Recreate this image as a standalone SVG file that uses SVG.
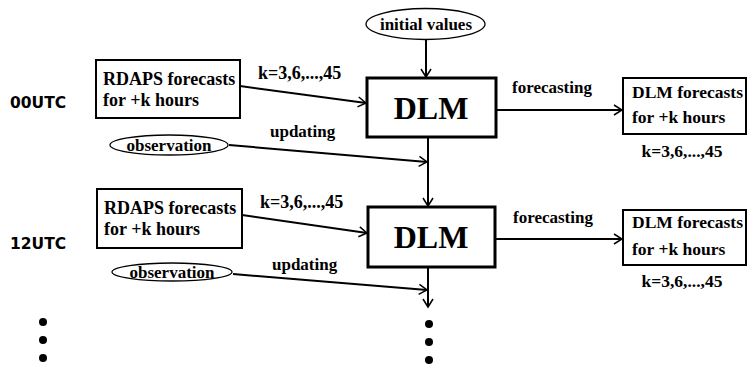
<svg xmlns="http://www.w3.org/2000/svg" width="748" height="367" viewBox="0 0 748 367">
<defs>
<marker id="arr" markerUnits="userSpaceOnUse" markerWidth="14" markerHeight="14" refX="10" refY="6" orient="auto">
<path d="M2,1 L10,6 L2,11" fill="none" stroke="#000" stroke-width="1.5"/>
</marker>
</defs>
<style>
.t{font-family:"Liberation Serif","Times New Roman",serif;font-weight:bold;fill:#000}
.utc{font-family:"DejaVu Sans",Verdana,sans-serif;font-weight:bold;font-size:15.5px;fill:#000}
.box{fill:#fff;stroke:#000;stroke-width:2}
.dlm{fill:#fff;stroke:#000;stroke-width:3}
.ell{fill:#fff;stroke:#000;stroke-width:1.3}
.c{fill:none;stroke:#000;stroke-width:2}
</style>
<rect width="748" height="367" fill="#fff"/>
<g id="connectors">
<line class="c" x1="426" y1="40" x2="426" y2="77" marker-end="url(#arr)"/>
<line class="c" x1="240" y1="86" x2="366" y2="103" marker-end="url(#arr)"/>
<line class="c" x1="229" y1="145" x2="427" y2="162" marker-end="url(#arr)"/>
<line class="c" x1="428" y1="138" x2="428" y2="206" marker-end="url(#arr)"/>
<line class="c" x1="496" y1="110" x2="622" y2="110" marker-end="url(#arr)"/>
<line class="c" x1="242" y1="215" x2="367" y2="233" marker-end="url(#arr)"/>
<line class="c" x1="233" y1="274" x2="427" y2="290" marker-end="url(#arr)"/>
<line class="c" x1="428" y1="268" x2="428" y2="307" marker-end="url(#arr)"/>
<line class="c" x1="495" y1="239" x2="622" y2="239" marker-end="url(#arr)"/>
<text class="t" x="258" y="79" font-size="18">k=3,6,...,45</text>
<text class="t" x="270" y="137" font-size="17">updating</text>
<text class="t" x="512" y="93" font-size="17">forecasting</text>
<text class="t" x="260" y="208" font-size="18">k=3,6,...,45</text>
<text class="t" x="272" y="270" font-size="17">updating</text>
<text class="t" x="513" y="223" font-size="17">forecasting</text>
</g>
<g id="utc00"><text class="utc" x="10" y="108">00UTC</text></g>
<g id="utc12"><text class="utc" x="10" y="249">12UTC</text></g>
<g id="initial">
<ellipse class="ell" cx="425.5" cy="24" rx="59.5" ry="15.5"/>
<text class="t" x="426" y="30" font-size="17" text-anchor="middle">initial values</text>
</g>
<g id="rdaps1">
<rect class="box" x="96" y="60" width="144" height="58"/>
<text class="t" x="103" y="85" font-size="18">RDAPS forecasts</text>
<text class="t" x="103" y="106" font-size="18">for +k hours</text>
</g>
<g id="obs1">
<ellipse class="ell" cx="169" cy="145" rx="59" ry="10"/>
<text class="t" x="169" y="151" font-size="17" text-anchor="middle">observation</text>
</g>
<g id="dlm1">
<rect class="dlm" x="367" y="78" width="129" height="59"/>
<text class="t" x="431" y="119" font-size="32" text-anchor="middle">DLM</text>
</g>
<g id="out1">
<rect class="box" x="623" y="78" width="123" height="56"/>
<text class="t" x="632" y="98" font-size="17.5">DLM forecasts</text>
<text class="t" x="632" y="123" font-size="17.5">for +k hours</text>
<text class="t" x="682" y="157" font-size="17.5" text-anchor="middle">k=3,6,...,45</text>
</g>
<g id="rdaps2">
<rect class="box" x="97" y="189" width="145" height="59"/>
<text class="t" x="104" y="214" font-size="18">RDAPS forecasts</text>
<text class="t" x="104" y="235" font-size="18">for +k hours</text>
</g>
<g id="obs2">
<ellipse class="ell" cx="172" cy="272" rx="60" ry="9"/>
<text class="t" x="172" y="278" font-size="17" text-anchor="middle">observation</text>
</g>
<g id="dlm2">
<rect class="dlm" x="368" y="207" width="127" height="60"/>
<text class="t" x="431" y="248" font-size="32" text-anchor="middle">DLM</text>
</g>
<g id="out2">
<rect class="box" x="623" y="210" width="123" height="55"/>
<text class="t" x="632" y="228" font-size="17.5">DLM forecasts</text>
<text class="t" x="632" y="255" font-size="17.5">for +k hours</text>
<text class="t" x="682" y="287" font-size="17.5" text-anchor="middle">k=3,6,...,45</text>
</g>
<g id="dots">
<circle cx="43" cy="322" r="4"/>
<circle cx="43" cy="340" r="4"/>
<circle cx="43" cy="358" r="4"/>
<circle cx="429" cy="324" r="4"/>
<circle cx="429" cy="342" r="4"/>
<circle cx="429" cy="360" r="4"/>
</g>
</svg>
